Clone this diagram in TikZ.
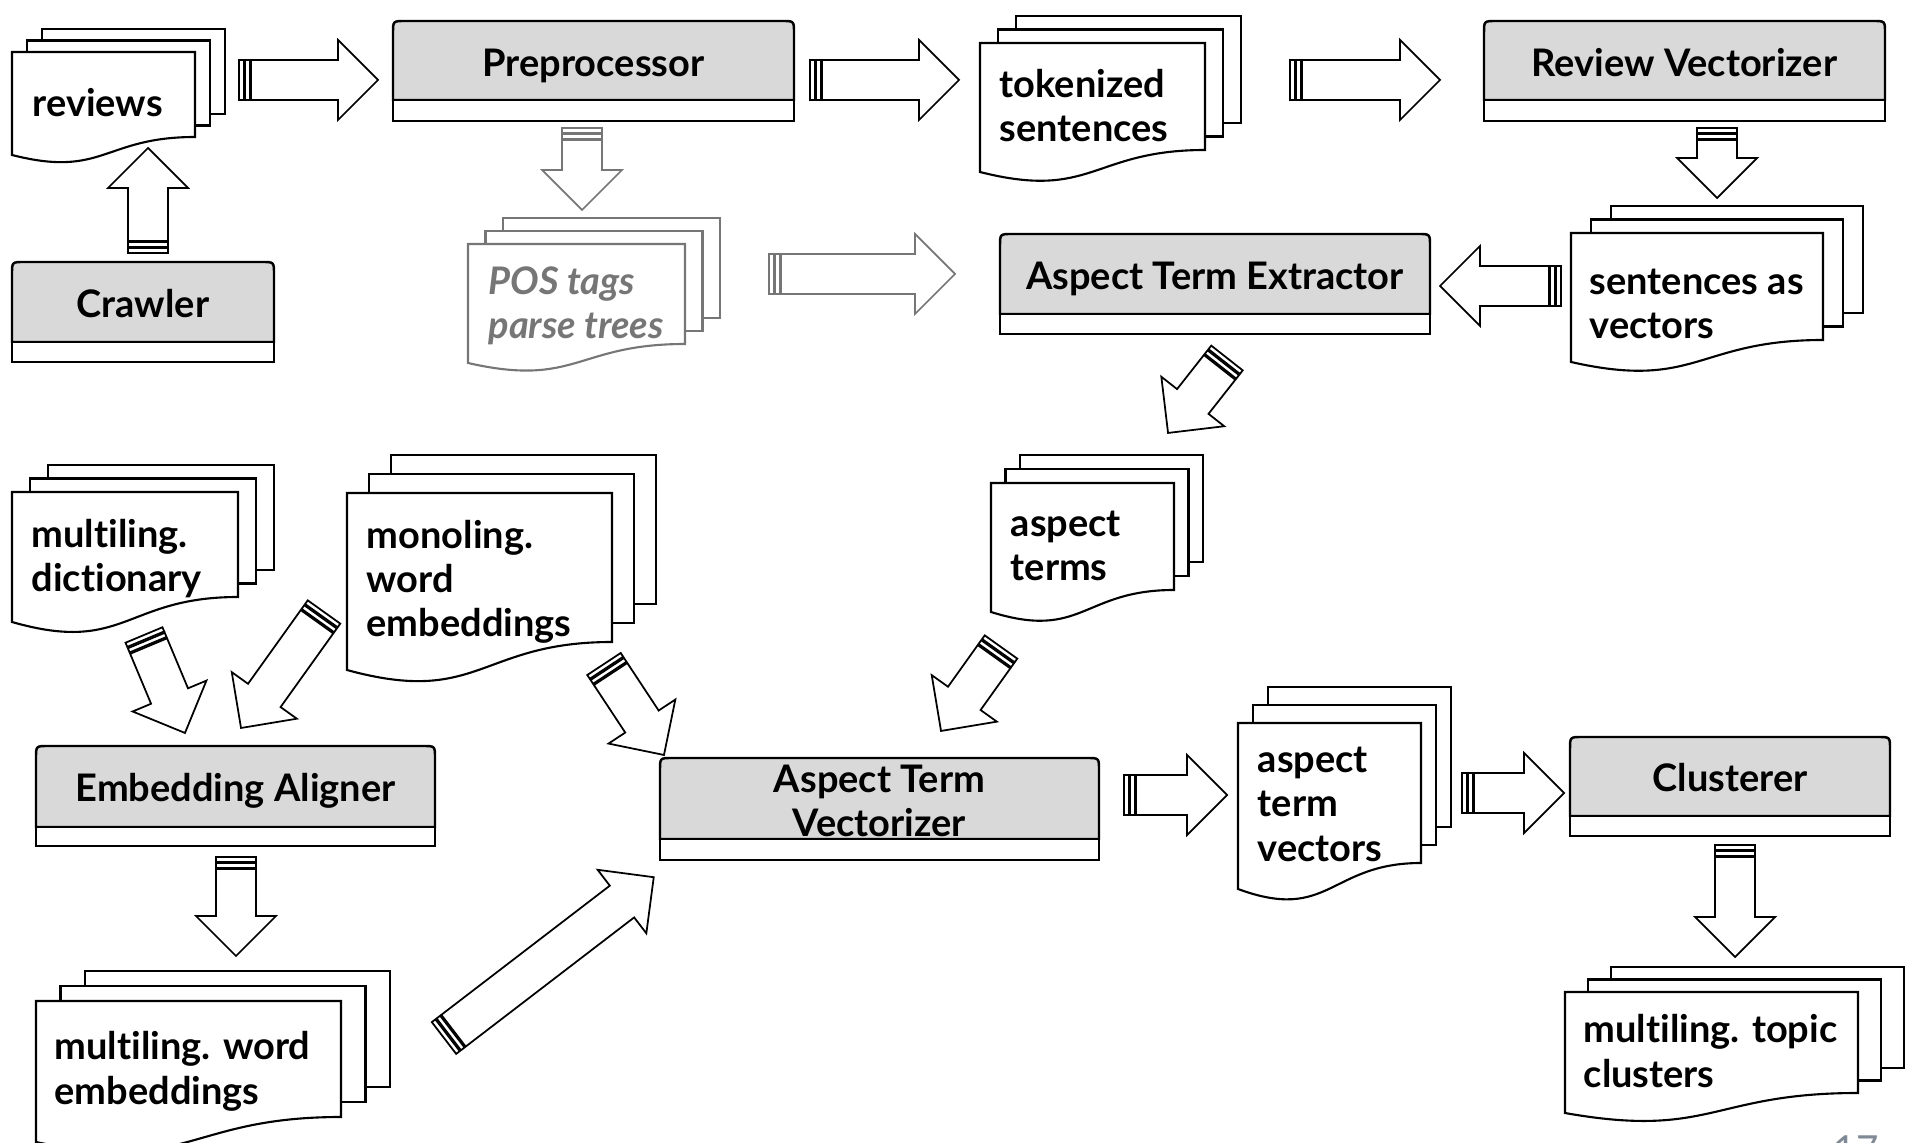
\documentclass[tikz,border=0pt]{standalone}
\usepackage{fontspec}
\setmainfont{Lato}[Ligatures=NoCommon]
\usetikzlibrary{calc}

\definecolor{boxgray}{RGB}{217,217,217}
\definecolor{posgray}{RGB}{118,118,118}
\definecolor{pagegray}{RGB}{128,138,150}

\tikzset{
  sheet/.style={draw, fill=white, line width=0.6pt},
  procline/.style={draw, line width=0.7pt},
  arrowline/.style={draw, fill=white, line width=0.5pt},
  boxtext/.style={font=\bfseries\fontsize{10.8}{12.6}\selectfont, inner sep=0pt},
  doctext/.style={boxtext, anchor=base west, align=left},
  stripedarrow/.pic={
    \draw[arrowline] (0pt,-5.69pt) rectangle (1.28pt,5.69pt);
    \draw[arrowline] (1.71pt,-5.69pt) rectangle (2.99pt,5.69pt);
    \draw[arrowline] (3.41pt,-5.69pt) -- ({#1-11.38pt},-5.69pt) -- ({#1-11.38pt},-11.38pt)
      -- ({#1+0pt},0pt) -- ({#1-11.38pt},11.38pt) -- ({#1-11.38pt},5.69pt) -- (3.41pt,5.69pt) -- cycle;
  }
}

% 文档堆叠: [样式]{左}{上}{右}{右下}{左下}{dx}{dy}
\newcommand{\docstack}[8][]{%
  \foreach \k in {2,1}
    \draw[sheet,#1] ({#2+\k*(#7)},{#3+\k*(#8)}) rectangle ({#4+\k*(#7)},{#5+\k*(#8)});
  \draw[sheet,#1] (#2,#3) -- (#4,#3) -- (#4,#5)
    .. controls ({(#2+#4)/2},#5) and ({(#2+#4)/2},{#5+2.3*(#6-#5)}) .. (#2,#6) -- cycle;
}
% 处理框: {左}{上}{右}{分隔线}{下}
\newcommand{\procbox}[5]{%
  \draw[procline, fill=boxgray] (#1,#4) -- (#1,{#2+12}) .. controls (#1,#2) .. ({#1+12},#2)
    -- ({#3-12},#2) .. controls (#3,#2) .. (#3,{#2+12}) -- (#3,#4) -- cycle;
  \draw[procline, fill=white] (#1,#4) rectangle (#3,#5);
}
% 条纹箭头: [样式]{起点}{终点}
\newcommand{\blockarrow}[3][]{%
  \path let \p1=(#2), \p2=(#3),
    \n1={atan2(\y2-\y1,\x2-\x1)}, \n2={veclen(\x2-\x1,\y2-\y1)}
  in pic[rotate=\n1,#1] at (\p1) {stripedarrow=\n2};
}

\begin{document}
\begin{tikzpicture}[x=0.01cm, y=-0.01cm]
    \useasboundingbox (0,0) rectangle (1905,1143);

    % 处理框
    \procbox{12}{262}{274}{342}{362}
    \procbox{393}{21}{794}{100}{121}
    \procbox{1484}{21}{1885}{100}{121}
    \procbox{1000}{234}{1430}{314}{334}
    \procbox{36}{746}{435}{827}{846}
    \procbox{660}{758}{1099}{839}{860}
    \procbox{1570}{737}{1890}{816}{836}

    \node[boxtext, anchor=base] (crawler) at (143,318) {Crawler};
    \node[boxtext, anchor=base] (preproc) at (593.5,77) {Preprocessor};
    \node[boxtext, anchor=base] (revvec) at (1684.5,77) {Review Vectorizer};
    \node[boxtext, anchor=base] (extractor) at (1215,290) {Aspect Term Extractor};
    \node[boxtext, anchor=base] (aligner) at (235.5,802) {Embedding Aligner};
    \node[boxtext, anchor=base, align=center] (atvec) at (879.5,837) {Aspect Term\\Vectorizer};
    \node[boxtext, anchor=base] (clusterer) at (1730,792) {Clusterer};

    % 文档
    \docstack{12}{52}{195}{137}{155}{15}{-11.5}
    \docstack[draw=posgray]{468}{244}{685}{344}{363}{17.5}{-13}
    \docstack{980}{43}{1205}{150}{172}{18}{-13.5}
    \docstack{1571}{233}{1823}{340}{362}{20}{-13.5}
    \docstack{991}{483}{1174}{590}{612}{14.5}{-14}
    \docstack{1238}{723}{1421}{863}{889}{15}{-18}
    \docstack{1565}{992}{1858}{1093}{1113}{23}{-12.5}
    \docstack{12}{492}{238}{597}{622}{18}{-13.5}
    \docstack{347}{493}{612}{642}{670}{22}{-19}
    \docstack{36}{1001}{341}{1117}{1142}{24.5}{-15}

    \node[doctext] (reviews) at (32,117) {reviews};
    \node[doctext, text=posgray, font=\bfseries\itshape\fontsize{10.8}{12.6}\selectfont] (postags) at (488,339) {POS tags\\parse trees};
    \node[doctext] (tokens) at (999,142) {tokenized\\sentences};
    \node[doctext] (sentvec) at (1589,339) {sentences as\\vectors};
    \node[doctext] (terms) at (1010,581) {aspect\\terms};
    \node[doctext] (termvec) at (1257,861) {aspect\\term\\vectors};
    \node[doctext] (topics) at (1583,1087) {multiling. topic\\clusters};
    \node[doctext] (dict) at (31,592) {multiling.\\dictionary};
    \node[doctext] (monoemb) at (366,637) {monoling.\\word\\embeddings};
    \node[doctext] (multiemb) at (54,1104) {multiling. word\\embeddings};

    % 箭头端点
    \coordinate (crawler-out) at (148,253);   \coordinate (reviews-in) at (148,148);
    \coordinate (reviews-out) at (239,80);    \coordinate (preproc-in) at (378,80);
    \coordinate (preproc-out) at (810,80);    \coordinate (tokens-in) at (959,80);
    \coordinate (tokens-out) at (1290,80);    \coordinate (revvec-in) at (1440,80);
    \coordinate (preproc-down) at (582,128);  \coordinate (postags-in) at (582,210);
    \coordinate (postags-out) at (769,274);   \coordinate (extractor-in) at (955,274);
    \coordinate (revvec-out) at (1717,128);   \coordinate (sentvec-in) at (1717,198);
    \coordinate (sentvec-out) at (1561,286);  \coordinate (extractor-in2) at (1440,286);
    \coordinate (extractor-out) at (1227,358); \coordinate (terms-in) at (1168,433);
    \coordinate (terms-out) at (1001,647);    \coordinate (atvec-in1) at (941,731);
    \coordinate (dict-out) at (144,635);      \coordinate (aligner-in1) at (185,733);
    \coordinate (monoemb-out1) at (324,612);  \coordinate (aligner-in2) at (241,728);
    \coordinate (monoemb-out2) at (604,664);  \coordinate (atvec-in2) at (664,755);
    \coordinate (multiemb-out) at (444,1038); \coordinate (atvec-in3) at (654,877);
    \coordinate (atvec-out) at (1124,795);    \coordinate (termvec-in) at (1227,795);
    \coordinate (termvec-out) at (1462,793);  \coordinate (clusterer-in) at (1564,793);
    \coordinate (clusterer-out) at (1735,845); \coordinate (topics-in) at (1735,957);
    \coordinate (aligner-out) at (236,857);   \coordinate (multiemb-in) at (236,956);

    % 箭头
    \blockarrow{crawler-out}{reviews-in}
    \blockarrow{reviews-out}{preproc-in}
    \blockarrow{preproc-out}{tokens-in}
    \blockarrow{tokens-out}{revvec-in}
    \blockarrow[color=posgray]{preproc-down}{postags-in}
    \blockarrow[color=posgray]{postags-out}{extractor-in}
    \blockarrow{revvec-out}{sentvec-in}
    \blockarrow{sentvec-out}{extractor-in2}
    \blockarrow{extractor-out}{terms-in}
    \blockarrow{terms-out}{atvec-in1}
    \blockarrow{dict-out}{aligner-in1}
    \blockarrow{monoemb-out1}{aligner-in2}
    \blockarrow{monoemb-out2}{atvec-in2}
    \blockarrow{multiemb-out}{atvec-in3}
    \blockarrow{atvec-out}{termvec-in}
    \blockarrow{termvec-out}{clusterer-in}
    \blockarrow{clusterer-out}{topics-in}
    \blockarrow{aligner-out}{multiemb-in}

    % 页码
    \node[anchor=north west, inner sep=0pt, text=pagegray, font=\fontsize{11}{13}\selectfont] (pagenum) at (1833,1135) {17};
\end{tikzpicture}
\end{document}
